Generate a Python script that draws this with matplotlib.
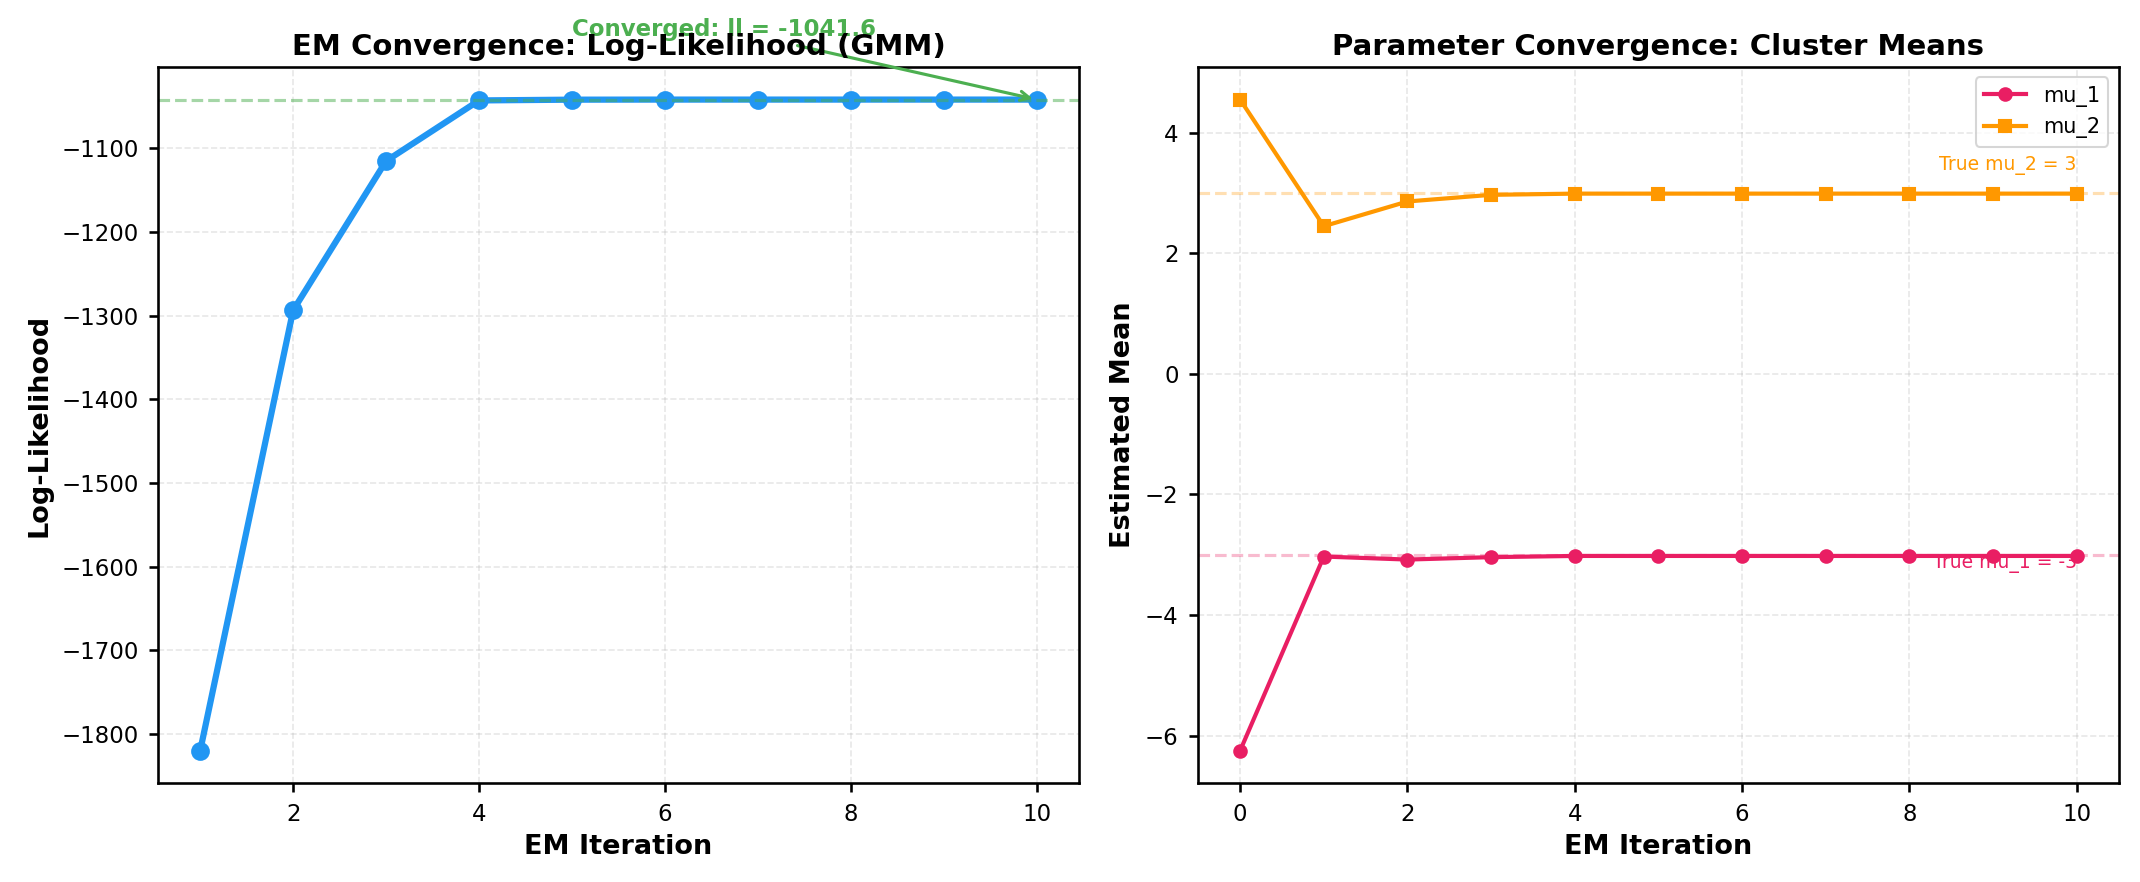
import numpy as np
import matplotlib
matplotlib.use('Agg')
import matplotlib.pyplot as plt

# log-likelihood per EM iteration
ll_iters = [1, 2, 3, 4, 5, 6, 7, 8, 9, 10]
ll_values = [-1820.0, -1293.5, -1115.0, -1042.6, -1041.7, -1041.6, -1041.6, -1041.6, -1041.6, -1041.6]
ll_final = -1041.6

# cluster mean estimates (iteration 0 = init)
mu_iters = [0, 1, 2, 3, 4, 5, 6, 7, 8, 9, 10]
mu_1 = [-6.25, -3.03, -3.08, -3.04, -3.02, -3.02, -3.02, -3.02, -3.02, -3.02, -3.02]
mu_2 = [4.55, 2.45, 2.86, 2.97, 2.99, 2.99, 2.99, 2.99, 2.99, 2.99, 2.99]
true_mu_1 = -3
true_mu_2 = 3

plt.rcParams['font.size'] = 11
plt.rcParams['axes.linewidth'] = 1.25
for ax_name in ('xtick', 'ytick'):
    plt.rcParams[ax_name + '.major.width'] = 1.25
    plt.rcParams[ax_name + '.major.size'] = 4.5
    plt.rcParams[ax_name + '.major.pad'] = 5

fig, (ax1, ax2) = plt.subplots(1, 2, figsize=(2140 / 150, 882 / 150), dpi=150)
fig.subplots_adjust(left=0.074, right=0.99, bottom=0.112, top=0.924, wspace=0.13)

# left: log-likelihood
ax1.plot(ll_iters, ll_values, 'o-', color='#2196F3', linewidth=3, markersize=8)
ax1.axhline(ll_final, color='#4CAF50', linestyle='--', alpha=0.5)
ax1.annotate('Converged: ll = %.1f' % ll_final, xy=(ll_iters[-1], ll_final),
             xytext=(5, -965), fontsize=11, fontweight='bold', color='#4CAF50',
             arrowprops=dict(arrowstyle='->', color='#4CAF50', lw=1.5))
ax1.set_xlabel('EM Iteration', fontsize=13, fontweight='bold')
ax1.set_ylabel('Log-Likelihood', fontsize=13, fontweight='bold')
ax1.set_title('EM Convergence: Log-Likelihood (GMM)', fontsize=14, fontweight='bold')
ax1.grid(True, alpha=0.3, linestyle='--')

# right: cluster means
ax2.plot(mu_iters, mu_1, 'o-', color='#E91E63', linewidth=2, markersize=6, label='mu_1')
ax2.plot(mu_iters, mu_2, 's-', color='#FF9800', linewidth=2, markersize=6, label='mu_2')
ax2.axhline(true_mu_1, color='#E91E63', linestyle='--', alpha=0.3)
ax2.axhline(true_mu_2, color='#FF9800', linestyle='--', alpha=0.3)
ax2.text(mu_iters[-1], true_mu_2 + 0.3, 'True mu_2 = %d' % true_mu_2, color='#FF9800',
         fontsize=9, ha='right', va='bottom')
ax2.text(mu_iters[-1], true_mu_1 - 0.3, 'True mu_1 = %d' % true_mu_1, color='#E91E63',
         fontsize=9, ha='right', va='bottom')
ax2.set_xlabel('EM Iteration', fontsize=13, fontweight='bold')
ax2.set_ylabel('Estimated Mean', fontsize=13, fontweight='bold')
ax2.set_title('Parameter Convergence: Cluster Means', fontsize=14, fontweight='bold')
ax2.legend(loc='upper right', fontsize=10)
ax2.grid(True, alpha=0.3, linestyle='--')

plt.savefig('out.png', dpi=150)
